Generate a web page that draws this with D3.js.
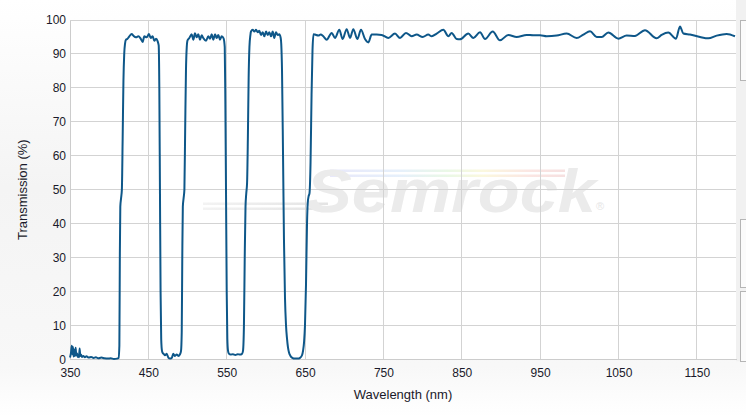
<!DOCTYPE html>
<html>
<head>
<meta charset="utf-8">
<script src="https://cdn.jsdelivr.net/npm/d3@7/dist/d3.min.js"></script>
<style>
  html, body { margin: 0; padding: 0; background: #fff; }
  svg { display: block; }
  text { font-family: "Liberation Sans", Arial, sans-serif; }
</style>
</head>
<body>
<svg id="chart" width="746" height="417"></svg>
<script>
// ---- Data ----
const wavelength = [
  350, 351.2, 352.3, 353.0, 353.8, 354.6, 355.5, 356.3, 357.2, 358.0, 358.9, 359.8, 360.6, 361.5, 362.3, 363.1, 364.0, 365.3,
  367, 369, 371, 374, 377, 380, 383, 386, 390, 394, 398, 402, 406, 410, 412,
  413, 413.6, 414.2, 415.2, 416.2, 417.2, 418.2, 419.2, 420.2, 421.5,
  423.1, 425.7, 428.7, 430.8, 434.2, 437.2, 440.2, 442.8, 444.8, 447.9, 450.8, 453, 455.5, 457.6, 459.8, 461.9, 463.2,
  464.0, 464.8, 465.6, 466.4, 467.4, 468.5,
  469.5, 471.2, 473.4, 475.5, 477.6, 479.8, 481.8, 484.0, 486.2, 488.2, 490.4, 491.7,
  492.6, 493.3, 494.0, 495.0, 496.0, 497.0, 498.0, 499.0, 500.0,
  502.3, 505.3, 507.4, 509.5, 511.7, 513.8, 515.9, 518.1, 520.1, 523.6, 526.5, 528.7, 530.9, 532.9, 535.1, 537.2, 539.3, 541.4, 543.6, 546.0,
  547.5, 548.3, 549.1, 550.0, 550.8, 551.7, 552.8,
  555, 558, 561, 564, 567, 569.5, 570.8,
  572.0, 573.0, 574.0, 575.0, 576.0, 577.0, 578.0, 579.0, 580.2,
  581.0, 583.2, 585.3, 587.4, 589.6, 591.6, 593.8, 596.0, 598.0, 600.2, 602.3, 604.4, 606.5, 608.7, 610.7, 612.9, 615.1, 617.1, 618.9,
  619.6, 620.6, 621.9, 623.1, 624.4, 625.7, 627.0, 628.2, 629.5, 631.4, 633.3, 637.2, 641.0, 643.5, 646.1, 647.4,
  648.7, 649.9, 651.2, 652.5, 653.4, 654.5, 655.7, 657.0, 658.3, 659.5, 660.8,
  662.7, 666.9, 669.9, 673.3, 677.6, 684.0, 688.2, 693.7, 698.0, 703.1, 707.4, 711.6, 716.7, 721.4, 726.5, 730.8, 735.0,
  741.4, 747.8, 756.3, 764.8, 771.2, 778.8, 786.1, 792.4, 800.1, 807.3, 811.6, 818.0, 826.5, 832.9, 837.1, 843.5, 847.5,
  858.4, 864.8, 873.3, 879.7, 889.5, 898.8, 909.4, 920.1, 932.8, 941.3, 949.9, 958.4, 971.1, 983.9, 996.6,
  1005.2, 1013.7, 1022.2, 1028.6, 1037, 1049.8, 1060.4, 1071, 1083.8, 1098.7, 1105.1, 1113.6, 1123.4, 1128.5, 1132.8,
  1141.3, 1154.1, 1164.7, 1175.3, 1188.1, 1198.7
];
const transmission = [
  0.5, 1.8, 4.0, 1.5, 3.6, 0.8, 2.8, 1.0, 3.4, 1.2, 1.8, 0.7, 1.4, 0.6, 3.2, 1.0, 1.4, 0.7,
  1.0, 0.6, 0.9, 0.5, 0.7, 0.4, 0.6, 0.3, 0.5, 0.3, 0.2, 0.3, 0.1, 0.2, 0.4,
  4, 30, 45, 47.5, 50, 65, 82, 90, 93, 94.2,
  94.4, 95.2, 95.9, 95.4, 94.9, 95.2, 94.5, 93.5, 95.2, 94.9, 95.9, 94.7, 95.2, 93.9, 94.5, 93.7, 92.5,
  80, 50, 20, 6, 2.5, 1.8,
  1.6, 1.2, 1.6, 0.5, 0.2, 0.4, 1.6, 1.0, 1.4, 1.0, 1.5, 2.5,
  8, 30, 45, 47.5, 50, 68, 85, 92, 94,
  94.7, 95.8, 94.2, 96.1, 94.9, 95.8, 94.2, 95.5, 94.7, 93.9, 95.2, 94.5, 95.8, 94.2, 95.8, 94.7, 95.6, 94.2, 95.2, 94.6,
  92, 75, 50, 20, 6, 2.5, 1.7,
  1.4, 1.5, 1.3, 1.5, 1.4, 1.6, 2.5,
  10, 30, 45, 49, 52, 65, 83, 92, 95.5,
  96.6, 97.1, 96.6, 97.1, 96.4, 96.8, 95.6, 96.4, 95.2, 96.6, 95.6, 96.4, 95.2, 96.6, 94.7, 96.4, 95.6, 95.8, 94.7,
  93, 85, 60, 35, 18, 10, 6, 3.5, 2, 1, 0.5, 0.2, 0.2, 0.4, 1.2, 2.5,
  5, 10, 22, 40, 46, 48, 49, 58, 78, 91, 95.8,
  95.7, 95.4, 95.7, 95.2, 94.2, 96.2, 94.7, 97.1, 94.4, 97.3, 94.7, 97.3, 94.4, 97.1, 94.4, 93.4, 95.7,
  95.7, 95.6, 94.7, 96.0, 94.7, 96.2, 95.2, 95.7, 95.0, 95.7, 95.2, 96.0, 97.1, 95.2, 96.2, 94.4, 94.3,
  96.0, 94.7, 96.4, 94.4, 96.6, 94.0, 95.6, 95.0, 95.6, 95.5, 95.5, 95.2, 95.4, 96.0, 94.7,
  95.7, 96.7, 95.0, 95.0, 96.3, 94.5, 95.4, 95.3, 97.0, 94.6, 95.6, 96.3, 94.5, 98.1, 96.0,
  95.7, 95.0, 94.6, 95.4, 95.9, 95.2
];
const xTicks = [350, 450, 550, 650, 750, 850, 950, 1050, 1150];
const yTicks = [0, 10, 20, 30, 40, 50, 60, 70, 80, 90, 100];
const xLabel = "Wavelength (nm)";
const yLabel = "Transmission (%)";
const watermark = "Semrock";

// ---- Layout ----
const W = 746, H = 417;
const plot = { left: 70, right: 736, top: 20, bottom: 359.3 };

const svg = d3.select("#chart");
const defs = svg.append("defs");

// page background gradient
const bg = defs.append("linearGradient").attr("id", "bg").attr("x1", 0).attr("y1", 0).attr("x2", 0).attr("y2", 1);
bg.append("stop").attr("offset", "0%").attr("stop-color", "#ffffff");
bg.append("stop").attr("offset", "45%").attr("stop-color", "#f4f4f4");
bg.append("stop").attr("offset", "88%").attr("stop-color", "#f8f8f8");
bg.append("stop").attr("offset", "100%").attr("stop-color", "#ffffff");
svg.append("rect").attr("width", W).attr("height", H).attr("fill", "url(#bg)");

// right side panel
svg.append("rect").attr("x", plot.right).attr("y", 0).attr("width", W - plot.right).attr("height", plot.bottom + 2).attr("fill", "#f1f1f1");
[[20, 60], [219, 68], [291, 70]].forEach(([yy, hh]) => {
  svg.append("rect").attr("x", 740.5).attr("y", yy + 0.5).attr("width", 12).attr("height", hh)
    .attr("fill", "#fbfbfb").attr("stroke", "#b5b5b5").attr("stroke-width", 1);
});

const x = d3.scaleLinear().domain([350, 1200]).range([plot.left, plot.right]);
const y = d3.scaleLinear().domain([0, 100]).range([plot.bottom, plot.top]);

// plot area
svg.append("rect").attr("x", plot.left).attr("y", plot.top).attr("width", plot.right - plot.left)
  .attr("height", plot.bottom - plot.top).attr("fill", "#ffffff");

// watermark
const wm = svg.append("g").attr("class", "watermark");
const rb = defs.append("linearGradient").attr("id", "rainbow").attr("x1", 0).attr("x2", 1).attr("y1", 0).attr("y2", 0);
[["0%", "#e8e8fa"], ["30%", "#e6f0fb"], ["50%", "#eaf8e6"], ["65%", "#fbf8de"], ["85%", "#fbe6e3"], ["100%", "#f6e0e0"]]
  .forEach(([o, c]) => rb.append("stop").attr("offset", o).attr("stop-color", c));
const gl = defs.append("linearGradient").attr("id", "greyfade").attr("x1", 0).attr("x2", 1).attr("y1", 0).attr("y2", 0);
gl.append("stop").attr("offset", "0%").attr("stop-color", "#f3f3f3");
gl.append("stop").attr("offset", "100%").attr("stop-color", "#e4e4e4");
wm.append("rect").attr("x", 330).attr("y", 169.5).attr("width", 235).attr("height", 2.5).attr("fill", "url(#rainbow)");
wm.append("rect").attr("x", 330).attr("y", 174.5).attr("width", 235).attr("height", 2.5).attr("fill", "url(#rainbow)");
wm.append("rect").attr("x", 203).attr("y", 202.5).attr("width", 125).attr("height", 2.5).attr("fill", "url(#greyfade)");
wm.append("rect").attr("x", 203).attr("y", 207.5).attr("width", 125).attr("height", 2.5).attr("fill", "url(#greyfade)");
wm.append("text").attr("x", 306).attr("y", 212).attr("font-size", 62).attr("font-weight", "bold")
  .attr("font-style", "italic").attr("textLength", 290).attr("lengthAdjust", "spacingAndGlyphs")
  .attr("fill", "#ebebeb").text(watermark);
wm.append("text").attr("x", 596).attr("y", 210).attr("font-size", 11).attr("fill", "#e6e6e6").text("®");

// grid
const grid = svg.append("g").attr("stroke", "#d3d3d3").attr("stroke-width", 1).attr("shape-rendering", "crispEdges");
grid.selectAll("line.h").data(yTicks).join("line").attr("class", "h")
  .attr("x1", plot.left).attr("x2", plot.right).attr("y1", d => y(d)).attr("y2", d => y(d));
grid.selectAll("line.v").data(xTicks).join("line").attr("class", "v")
  .attr("y1", plot.top).attr("y2", plot.bottom).attr("x1", d => x(d)).attr("x2", d => x(d));

// axes
const xAxis = d3.axisBottom(x).tickValues(xTicks).tickSize(0).tickPadding(9).tickFormat(d3.format("d"));
const yAxis = d3.axisLeft(y).tickValues(yTicks).tickSize(0).tickPadding(4).tickFormat(d3.format("d"));
const gx = svg.append("g").attr("transform", `translate(0,${plot.bottom})`).call(xAxis);
const gy = svg.append("g").attr("transform", `translate(${plot.left},0)`).call(yAxis);
[gx, gy].forEach(g => {
  g.select(".domain").attr("stroke", "#cccccc").attr("shape-rendering", "crispEdges");
  g.selectAll("text").attr("font-size", 12).attr("fill", "#1a1a2a").attr("font-family", "'Liberation Sans', Arial, sans-serif");
});

// axis titles
svg.append("text").attr("x", (plot.left + plot.right) / 2).attr("y", 399).attr("text-anchor", "middle")
  .attr("font-size", 13).attr("fill", "#1a1a2a").text(xLabel);
svg.append("text").attr("transform", `translate(27,${(plot.top + plot.bottom) / 2}) rotate(-90)`).attr("text-anchor", "middle")
  .attr("font-size", 13).attr("fill", "#1a1a2a").text(yLabel);

// curve
const pts = wavelength.map((w, i) => [w, transmission[i]]);
const line = d3.line().x(d => x(d[0])).y(d => y(d[1])).curve(d3.curveMonotoneX);
svg.append("path").datum(pts).attr("d", line).attr("fill", "none")
  .attr("stroke", "#0e5789").attr("stroke-width", 2).attr("stroke-linejoin", "round");
</script>
</body>
</html>
